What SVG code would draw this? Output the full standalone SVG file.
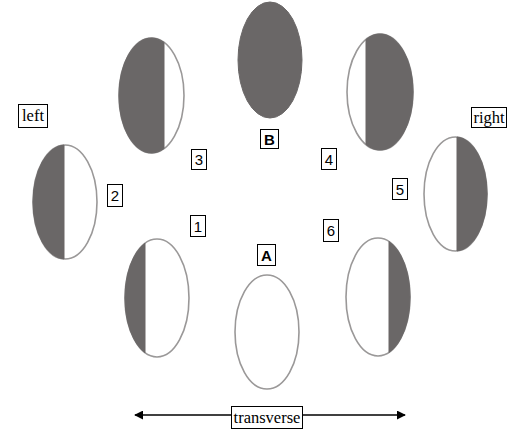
<svg xmlns="http://www.w3.org/2000/svg" width="509" height="434" viewBox="0 0 509 434">
<style>
.shell{fill:#fff;stroke:#9a9898;stroke-width:1.6}
.dark{fill:#6a6767;stroke:#6a6767;stroke-width:1}
.box{fill:#fff;stroke:#000;stroke-width:1}
.num{font-family:"Liberation Sans",Arial,sans-serif;font-size:15px;fill:#000;text-anchor:middle}
.bold{font-weight:bold}
.word{font-family:"Liberation Serif","Times New Roman",serif;font-size:16.5px;fill:#000;text-anchor:middle}
.axis{stroke:#000;stroke-width:1.3;fill:none}
</style>
<defs>
<marker id="ah" viewBox="0 0 10 10" refX="9" refY="5" markerWidth="9" markerHeight="9" markerUnits="userSpaceOnUse" orient="auto-start-reverse">
<path d="M0,0 L10,5 L0,10 Z" fill="#000"/>
</marker>
</defs>
<rect width="509" height="434" fill="#fff"/>

<g id="cell-B">
<ellipse class="dark" cx="270" cy="60" rx="32" ry="58"/>
</g>
<g id="cell-3">
<ellipse class="shell" cx="151.5" cy="95.5" rx="32.5" ry="57.5"/>
<path class="dark" d="M164,42.43 A32.5,57.5 0 1 0 164,148.57 Z"/>
</g>
<g id="cell-4">
<ellipse class="shell" cx="380" cy="92" rx="33" ry="58"/>
<path class="dark" d="M366,39.48 A33,58 0 1 1 366,144.52 Z"/>
</g>
<g id="cell-2">
<ellipse class="shell" cx="65" cy="202" rx="32" ry="57"/>
<path class="dark" d="M64,145.03 A32,57 0 0 0 64,258.97 Z"/>
</g>
<g id="cell-5">
<ellipse class="shell" cx="455.5" cy="194" rx="31.5" ry="57"/>
<path class="dark" d="M457,137.06 A31.5,57 0 0 1 457,250.94 Z"/>
</g>
<g id="cell-1">
<ellipse class="shell" cx="157" cy="298" rx="32" ry="59"/>
<path class="dark" d="M145,243.3 A32,59 0 0 0 145,352.7 Z"/>
</g>
<g id="cell-6">
<ellipse class="shell" cx="378" cy="297" rx="32" ry="59"/>
<path class="dark" d="M389,241.6 A32,59 0 0 1 389,352.4 Z"/>
</g>
<g id="cell-A">
<ellipse class="shell" cx="267" cy="332" rx="32" ry="57"/>
</g>

<g id="label-left">
<rect class="box" x="18.5" y="104.5" width="29" height="23"/>
<text class="word" x="33" y="121">left</text>
</g>
<g id="label-right">
<rect class="box" x="471.5" y="107.5" width="35" height="20"/>
<text class="word" x="489" y="122.5">right</text>
</g>
<g id="label-2">
<rect class="box" x="107.5" y="184.5" width="15" height="22"/>
<text class="num" x="115" y="201">2</text>
</g>
<g id="label-3">
<rect class="box" x="191.5" y="149.5" width="15" height="20"/>
<text class="num" x="199" y="165">3</text>
</g>
<g id="label-B">
<rect class="box" x="260.5" y="129.5" width="18" height="19"/>
<text class="num bold" x="269.5" y="145">B</text>
</g>
<g id="label-4">
<rect class="box" x="321.5" y="148.5" width="15" height="21"/>
<text class="num" x="329" y="165">4</text>
</g>
<g id="label-5">
<rect class="box" x="392.5" y="178.5" width="15" height="21"/>
<text class="num" x="400" y="195">5</text>
</g>
<g id="label-1">
<rect class="box" x="190.5" y="215.5" width="15" height="21"/>
<text class="num" x="198" y="232">1</text>
</g>
<g id="label-6">
<rect class="box" x="323.5" y="219.5" width="15" height="22"/>
<text class="num" x="331" y="236">6</text>
</g>
<g id="label-A">
<rect class="box" x="257.5" y="244.5" width="18" height="21"/>
<text class="num bold" x="266.5" y="261">A</text>
</g>

<g id="connectors">
<line class="axis" x1="135" y1="415" x2="405" y2="415" marker-start="url(#ah)" marker-end="url(#ah)"/>
</g>
<g id="label-transverse">
<rect class="box" x="231.5" y="406.5" width="71" height="22"/>
<text class="word" x="267" y="423">transverse</text>
</g>
</svg>
